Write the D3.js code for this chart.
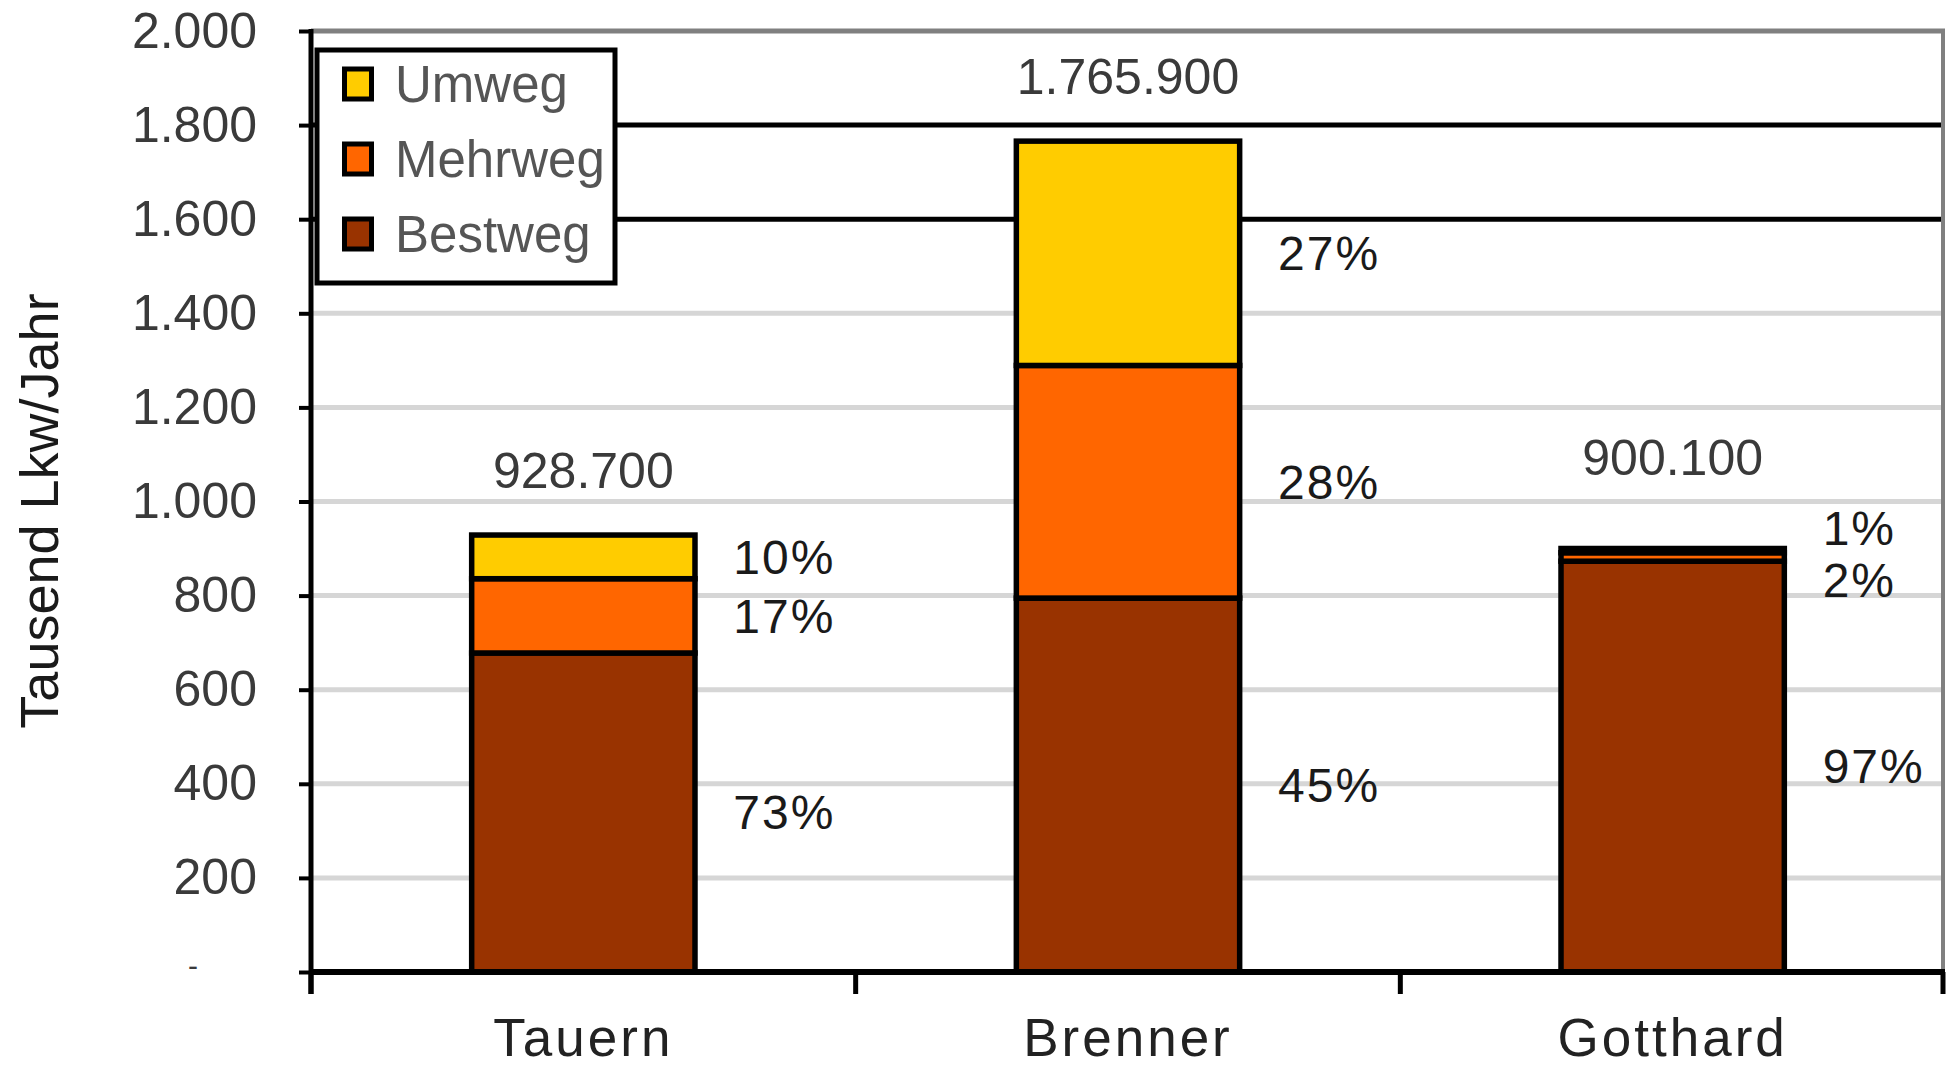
<!DOCTYPE html>
<html><head><meta charset="utf-8">
<script src="https://cdn.jsdelivr.net/npm/d3@7"></script>
<style>
html,body{margin:0;padding:0;background:#fff;}
svg{display:block;}
text{font-family:"Liberation Sans",Arial,sans-serif;}
</style></head>
<body>
<svg id="chart" width="1949" height="1066"></svg>
<script>
// ---- data (thousand trucks per year) ----
const categories = ["Tauern", "Brenner", "Gotthard"];
const seriesNames = ["Bestweg", "Mehrweg", "Umweg"];
const bestweg = [678.0, 794.7, 873.1];
const mehrweg = [157.9, 494.4, 18.0];
const umweg   = [92.8, 476.8, 9.0];
const yTicks = [0, 200, 400, 600, 800, 1000, 1200, 1400, 1600, 1800, 2000];
const legendOrder = ["Umweg", "Mehrweg", "Bestweg"];
const yTitle = "Tausend Lkw/Jahr";

const colors = {Bestweg: "#993300", Mehrweg: "#FF6600", Umweg: "#FFCC00"};

const rows = categories.map((c, i) => ({cat: c, Bestweg: bestweg[i], Mehrweg: mehrweg[i], Umweg: umweg[i]}));
rows.forEach(r => r.total = r.Bestweg + r.Mehrweg + r.Umweg);

const de = d3.formatLocale({decimal: ",", thousands: ".", grouping: [3], currency: ["", " €"]});
const fmtInt = de.format(",.0f");

const svg = d3.select("#chart");
const X0 = 311, X1 = 1945, Y0 = 972, Y1 = 31;

const x = d3.scaleBand().domain(categories).range([X0, X1]).padding(0);
const y = d3.scaleLinear().domain([0, 2000]).range([Y0, Y1]);
const barW = x.bandwidth() * 0.41;

// gridlines
const gridColor = v => v === 2000 ? "#808080" : (v === 1800 || v === 1600) ? "#000" : "#d6d6d6";
svg.append("g").selectAll("line").data(yTicks.filter(v => v > 0)).join("line")
  .attr("x1", X0).attr("x2", X1)
  .attr("y1", d => y(d)).attr("y2", d => y(d))
  .attr("stroke", gridColor).attr("stroke-width", 5);

// right border
svg.append("line").attr("x1", X1 - 2).attr("x2", X1 - 2).attr("y1", y(2000)).attr("y2", Y0)
  .attr("stroke", "#808080").attr("stroke-width", 4);

// y axis (labels via d3 axis)
const yAxis = d3.axisLeft(y).tickValues(yTicks).tickSize(12).tickPadding(42)
  .tickFormat(d => d === 0 ? "-" : fmtInt(d));
const gy = svg.append("g").attr("transform", `translate(${X0},0)`).call(yAxis);
gy.select(".domain").remove();
gy.selectAll(".tick line").attr("stroke", "#000").attr("stroke-width", 4);
gy.selectAll(".tick text").attr("font-size", 50).attr("fill", "#3a3a3a")
  .attr("font-family", '"Liberation Sans",Arial,sans-serif');
gy.selectAll(".tick text").filter(d => d === 0).attr("x", -118).attr("text-anchor", "middle").attr("font-size", 30).attr("dy", "0.1em");

// stacked bars
const stack = d3.stack().keys(seriesNames);
const stacked = stack(rows);
const barG = svg.append("g");
stacked.forEach(layer => {
  barG.append("g").selectAll("rect").data(layer).join("rect")
    .attr("x", d => x(d.data.cat) + x.bandwidth() / 2 - barW / 2)
    .attr("width", barW)
    .attr("y", d => y(d[1]))
    .attr("height", d => y(d[0]) - y(d[1]))
    .attr("fill", colors[layer.key])
    .attr("stroke", "#000").attr("stroke-width", 5.5);
});

// axes lines
svg.append("line").attr("x1", X0).attr("x2", X0).attr("y1", Y1 - 2).attr("y2", Y0 + 22)
  .attr("stroke", "#000").attr("stroke-width", 5);
const xAxis = d3.axisBottom(x).tickSize(0).tickPadding(0);
const gx = svg.append("g").attr("transform", `translate(0,${Y0})`).call(xAxis);
gx.select(".domain").attr("stroke", "#000").attr("stroke-width", 6).attr("d", `M${X0},0H${X1}`);
gx.selectAll(".tick text").attr("font-size", 53).attr("fill", "#222").attr("y", 84).attr("dy", 0)
  .attr("letter-spacing", 3)
  .attr("font-family", '"Liberation Sans",Arial,sans-serif');
// boundary ticks
const bounds = categories.map(c => x(c)).concat([X1 - 2]);
svg.append("g").selectAll("line").data(bounds).join("line")
  .attr("x1", d => d).attr("x2", d => d).attr("y1", Y0).attr("y2", Y0 + 22)
  .attr("stroke", "#000").attr("stroke-width", 5);

// percentage labels with simple collision avoidance
const minGap = 52;
const pctTops = {};
rows.forEach(r => {
  const lab = [];
  let base = 0;
  seriesNames.forEach(k => {
    const mid = base + r[k] / 2;
    base += r[k];
    lab.push({key: k, cy: y(mid), text: Math.round(r[k] / r.total * 100) + "%"});
  });
  lab.sort((a, b) => b.cy - a.cy);
  for (let iter = 0; iter < 20; iter++) {
    for (let i = 0; i < lab.length - 1; i++) {
      const a = lab[i], b = lab[i + 1];
      const gap = a.cy - b.cy;
      if (gap < minGap) {
        const push = (minGap - gap) / 2;
        a.cy += push; b.cy -= push;
      }
    }
  }
  pctTops[r.cat] = d3.min(lab, d => d.cy);
  svg.append("g").selectAll("text").data(lab).join("text")
    .attr("x", x(r.cat) + x.bandwidth() / 2 + 150)
    .attr("y", d => d.cy).attr("dy", "0.35em")
    .attr("font-size", 48).attr("letter-spacing", 2).attr("fill", "#1a1a1a")
    .text(d => d.text);
});

// total labels
svg.append("g").selectAll("text").data(rows).join("text")
  .attr("x", d => x(d.cat) + x.bandwidth() / 2)
  .attr("y", d => Math.min(y(d.total) - 65, pctTops[d.cat] - 70))
  .attr("dy", "0.35em").attr("text-anchor", "middle")
  .attr("font-size", 50).attr("fill", "#3a3a3a")
  .text(d => fmtInt(d.total * 1000));

// y title
svg.append("text").attr("transform", "translate(58,511) rotate(-90)")
  .attr("text-anchor", "middle").attr("font-size", 54).attr("fill", "#1a1a1a")
  .text(yTitle);

// legend
const lg = svg.append("g");
lg.append("rect").attr("x", 317).attr("y", 50).attr("width", 298).attr("height", 233)
  .attr("fill", "#fff").attr("stroke", "#000").attr("stroke-width", 5);
const li = lg.selectAll("g.item").data(legendOrder).join("g").attr("class", "item")
  .attr("transform", (d, i) => `translate(0,${84 + i * 75})`);
li.append("rect").attr("x", 344.5).attr("y", -15).attr("width", 27).attr("height", 30)
  .attr("fill", d => colors[d]).attr("stroke", "#000").attr("stroke-width", 5);
li.append("text").attr("x", 395).attr("y", 0).attr("dy", "0.35em")
  .attr("font-size", 51).attr("fill", "#555").text(d => d);
</script>
</body></html>
